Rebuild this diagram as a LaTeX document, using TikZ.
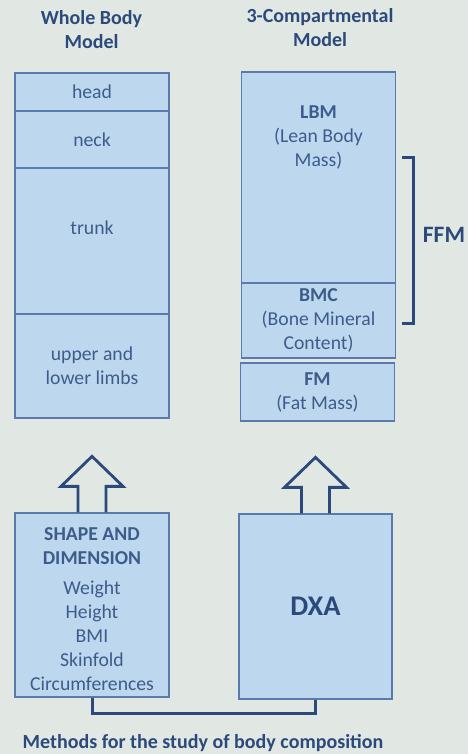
\documentclass[tikz,border=0pt]{standalone}
\usepackage{fontspec}
\setmainfont{Carlito}
\usetikzlibrary{calc}

\definecolor{bgcol}{HTML}{E1E7E3}
\definecolor{boxfill}{HTML}{BDD7EE}
\definecolor{boxline}{HTML}{5A7AAE}
\definecolor{txtcol}{HTML}{3D5C8A}
\definecolor{headcol}{HTML}{2B4A7B}

\tikzset{
    part/.style={draw=boxline, fill=boxfill, line width=1.3pt, minimum width=154pt, inner sep=0pt,
        text=txtcol, align=center, font=\fontsize{19.7}{24}\selectfont},
    txt/.style={text=txtcol, align=center, inner sep=0pt, font=\fontsize{19.7}{24}\selectfont},
    ttl/.style={text=headcol, align=center, inner sep=0pt, font=\bfseries\fontsize{20}{24}\selectfont},
    hollow/.style={draw=headcol, line width=2.8pt, line join=miter},
    link/.style={draw=headcol, line width=3pt},
}

\begin{document}
\begin{tikzpicture}[x=1pt,y=-1pt]
        \useasboundingbox (0,0) rectangle (468,754);
        \fill[bgcol] (0,0) rectangle (468,754);

        % titles
        \node[ttl] (wbtitle) at (91.5,30) {Whole Body\\Model};
        \node[ttl] (cmtitle) at (320,28) {3-Compartmental\\Model};

        % whole body model
        \node[part, minimum height=38pt] (head) at (92,92) {head};
        \node[part, minimum height=57pt] (neck) at (92,139.5) {neck};
        \node[part, minimum height=146pt] (trunk) at (92,241) {};
        \node[txt] (trunktxt) at (92,228) {trunk};
        \node[part, minimum height=104pt] (limbs) at (92,366) {upper and\\lower limbs};

        % 3-compartmental model
        \node[part, minimum height=211pt] (lbm) at (318.5,177.5) {};
        \node[txt] (lbmtxt) at (318.5,137) {\textbf{LBM}\\(Lean Body\\Mass)};
        \node[part, minimum height=75pt] (bmc) at (318.5,320.5) {\textbf{BMC}\\(Bone Mineral\\Content)};
        \node[part, minimum height=58pt] (fm) at (317.5,392) {\textbf{FM}\\(Fat Mass)};

        % FFM bracket
        \coordinate (ffmtop) at (402,158);
        \coordinate (ffmbot) at (402,323);
        \draw[link] (ffmtop) -- ++(11,0) |- (ffmbot);
        \node[ttl, font=\bfseries\fontsize{23.5}{28}\selectfont] (ffm) at (444,235) {FFM};

        % methods
        \node[part, minimum height=184pt] (shape) at (92,605) {};
        \node[txt] (shapetxt) at (92,609)
            {\textbf{SHAPE AND}\\\textbf{DIMENSION}\\[6pt]Weight\\Height\\BMI\\Skinfold\\Circumferences};
        \node[part, minimum width=153pt, minimum height=185pt,
            font=\bfseries\fontsize{28.5}{34}\selectfont, text=headcol] (dxa) at (315.5,606.5) {DXA};

        \foreach \b in {shape,dxa}{
            \draw[hollow] ($(\b.north)+(-14,0)$) -- ++(0,-26) -- ++(-17,0) -- ++(31,-30)
                -- ++(31,30) -- ++(-17,0) -- ++(0,26);
        }

        \draw[link] (shape.south) -- ++(0,16) -| (dxa.south);

        \node[ttl] (caption) at (203,743) {Methods for the study of body composition};
    \end{tikzpicture}
\end{document}
